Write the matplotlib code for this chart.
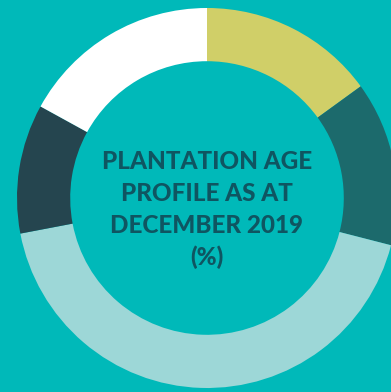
import matplotlib
matplotlib.use("Agg")
from matplotlib import pyplot as plt

# Plantation age profile shares (%), clockwise from 12 o'clock
shares = [15, 14, 43, 11, 17]
colors = ["#D0CF68", "#1C6A6C", "#9DD7D7", "#25454F", "#FFFFFF"]
title_lines = ["PLANTATION AGE", "PROFILE AS AT", "DECEMBER 2019", "(%)"]

bg = "#00B9B9"
text_color = "#0F5561"

fig = plt.figure(figsize=(3.91, 3.92), dpi=100, facecolor=bg)
ax = fig.add_axes([0, 0, 1, 1])
ax.set_facecolor(bg)

ax.pie(shares, colors=colors, startangle=90, counterclock=False,
       center=(207, 194), radius=190, frame=True,
       wedgeprops=dict(width=190 * 0.28, linewidth=0))
# pixel-like coordinates so the donut can run off the right edge
ax.set_xlim(0, 391)
ax.set_ylim(0, 392)
ax.set_aspect("equal")
ax.axis("off")

for i, line in enumerate(title_lines):
    ax.text(207, 231 - i * 32, line, ha="center", va="center",
            fontsize=17.5, fontweight="black", color=text_color,
            family=["Lato", "DejaVu Sans"])

fig.savefig("out.png", dpi=100, facecolor=bg)
